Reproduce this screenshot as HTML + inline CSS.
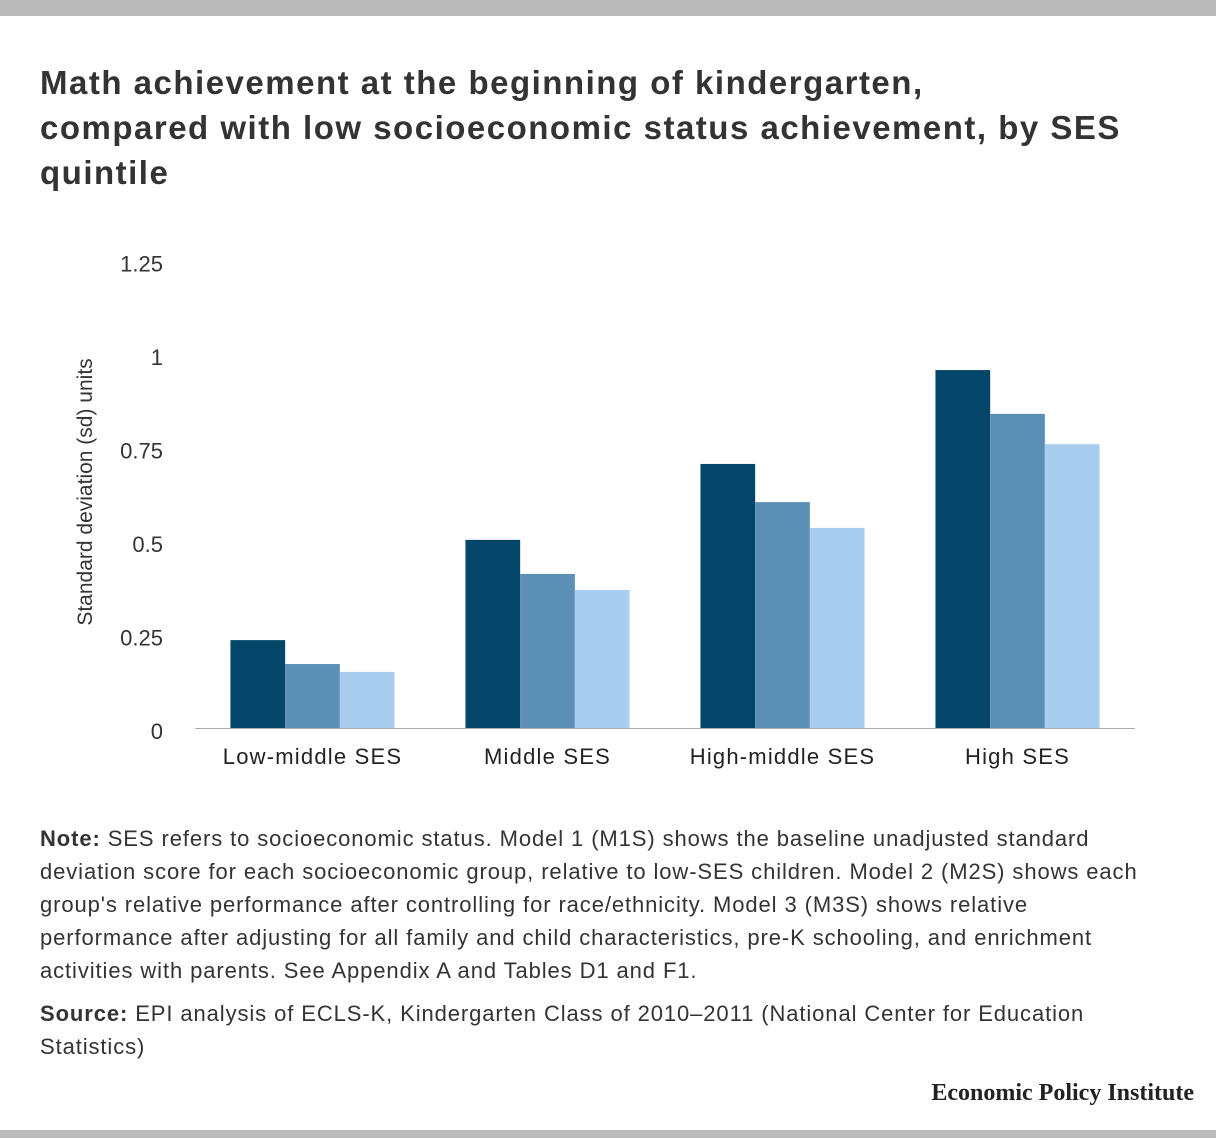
<!DOCTYPE html>
<html><head><meta charset="utf-8">
<style>
body{margin:0;width:1216px;height:1138px;background:#fff;position:relative;overflow:hidden;font-family:"Liberation Sans",sans-serif;color:#333}
.topbar{position:absolute;left:0;top:0;width:1216px;height:16px;background:#bbb}
.botbar{position:absolute;left:0;top:1130px;width:1216px;height:8px;background:#bbb}
h1{position:absolute;left:40px;top:60px;margin:0;font-size:33px;letter-spacing:1.5px;line-height:45px;font-weight:bold;color:#333;width:1190px;white-space:nowrap}
.note{position:absolute;left:40px;top:822px;width:1176px;font-size:22px;letter-spacing:0.9px;line-height:33px;color:#333;white-space:nowrap}
.source{position:absolute;left:40px;top:997px;width:1176px;font-size:22px;letter-spacing:0.9px;line-height:33px;color:#333;white-space:nowrap}
.brand{position:absolute;right:22px;top:1080px;font-family:"Liberation Serif",serif;font-weight:bold;font-size:24px;color:#222}
</style></head><body>
<div class="topbar"></div>
<h1>Math achievement at the beginning of kindergarten,<br>compared with low socioeconomic status achievement, by SES<br>quintile</h1>
<svg id="chart" width="1216" height="800" style="position:absolute;left:0;top:0"></svg>
<div class="note"><b>Note:</b> SES refers to socioeconomic status. Model 1 (M1S) shows the baseline unadjusted standard<br>deviation score for each socioeconomic group, relative to low-SES children. Model 2 (M2S) shows each<br>group's relative performance after controlling for race/ethnicity. Model 3 (M3S) shows relative<br>performance after adjusting for all family and child characteristics, pre-K schooling, and enrichment<br>activities with parents. See Appendix A and Tables D1 and F1.</div>
<div class="source"><b>Source:</b> EPI analysis of ECLS-K, Kindergarten Class of 2010–2011 (National Center for Education<br>Statistics)</div>
<div class="brand">Economic Policy Institute</div>
<div class="botbar"></div>
<script>
const categories=["Low-middle SES","Middle SES","High-middle SES","High SES"];
const m1=[0.235,0.503,0.706,0.957];
const m2=[0.171,0.412,0.604,0.840];
const m3=[0.150,0.369,0.535,0.759];
const ticks=[0,0.25,0.5,0.75,1,1.25];
const tickLabels=["0","0.25","0.5","0.75","1","1.25"];
const series=[m1,m2,m3];
const colors=["#03466a","#5b8fb5","#a9cdef"];
const NS="http://www.w3.org/2000/svg";
const svg=document.getElementById("chart");
const x0=195,x1=1135,y0=728,pxPerUnit=374;
const band=(x1-x0)/categories.length, bw=54.7;
const y=v=>y0-v*pxPerUnit;
function mk(t,a){const e=document.createElementNS(NS,t);for(const k in a)e.setAttribute(k,a[k]);svg.appendChild(e);return e;}
ticks.forEach((t,i)=>{
 const e=mk("text",{x:163,y:y(t)+11,"text-anchor":"end","font-size":"22","fill":"#333"});
 e.textContent=tickLabels[i];
 
 
});
const yt=mk("text",{transform:"translate(92,492) rotate(-90)","text-anchor":"middle","font-size":"21","fill":"#333"});
yt.textContent="Standard deviation (sd) units";


categories.forEach((c,i)=>{
 const cx=x0+band*(i+0.5);
 series.forEach((s,j)=>{
  const r=mk("rect",{x:cx-1.5*bw+j*bw,y:y(s[i]),width:bw,height:s[i]*pxPerUnit,fill:colors[j]});
  
  
 });
 const l=mk("text",{x:cx,y:764,"text-anchor":"middle","font-size":"22","letter-spacing":"1.2","fill":"#222"});
 l.textContent=c;
 
 
});
const ax=mk("line",{x1:x0,x2:x1,y1:y0+0.5,y2:y0+0.5,stroke:"#aaa","stroke-width":"1"});


</script>
</body></html>
